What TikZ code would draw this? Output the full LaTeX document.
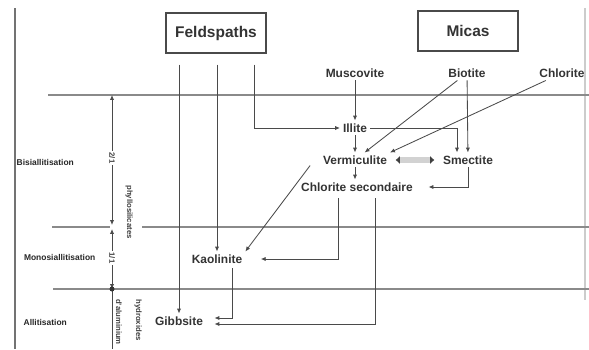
\documentclass[tikz,border=0pt]{standalone}
\usepackage{fontspec}
\setmainfont{Liberation Sans}
\usepackage{xcolor}
\usetikzlibrary{arrows.meta, positioning, calc}
\definecolor{ink}{HTML}{4A4A4A}
\definecolor{edge}{HTML}{8A8A8A}

\begin{document}
\begin{tikzpicture}[
    x=0.025cm, y=-0.025cm,
    >={Latex[length=3.5pt, width=3pt]},
    mineral/.style={font=\fontsize{8.5}{10}\selectfont\bfseries, text=black!80, inner sep=2pt},
    groupbox/.style={draw=ink, thick, minimum width=2.5cm, minimum height=1cm, font=\fontsize{11}{13}\selectfont\bfseries, text=black!80},
    zone/.style={font=\fontsize{6}{7}\selectfont\bfseries, text=black!85, inner sep=1pt},
    vlabel/.style={rotate=-90, font=\fontsize{5.5}{6}\selectfont\bfseries, text=black!75, inner sep=1pt},
    arr/.style={->, draw=ink, line width=0.6pt},
    limit/.style={draw=edge, line width=0.9pt},
]
    \useasboundingbox (0,0) rectangle (589,349);

    % Page edges of the scan
    \draw[black!55, line width=1.5pt] (15,8) -- (15,349);
    \draw[black!20, line width=0.8pt] (585,8) -- (585,300);

    % Limits between the zones
    \draw[limit] (48,95) -- (589,95);
    \draw[limit] (52,227) -- (110,227);
    \draw[limit] (142,227) -- (589,227);
    \draw[limit] (53,289) -- (589,289);

    % Zones
    \node[zone, anchor=west] (bisi) at (15,162) {Bisiallitisation};
    \node[zone, anchor=east] (mono) at (97,257) {Monosiallitisation};
    \node[zone, anchor=west] (alli) at (22,322) {Allitisation};

    % Scale of the products
    \coordinate (sTop) at (112,95);
    \coordinate (sMid) at (112,227);
    \coordinate (sLow) at (112,289);
    \coordinate (sEnd) at (112,349);
    \node[vlabel] (s21) at (112,158) {2/1};
    \node[vlabel] (s11) at (112,258) {1/1};
    \draw[arr] (s21) -- (sTop);
    \draw[arr] (s21) -- ($(sMid)+(0,-2)$);
    \draw[arr] (s11) -- ($(sMid)+(0,2)$);
    \draw[arr] (s11) -- (sLow);
    \draw[ink, line width=0.6pt] (sLow) -- (sEnd);
    \fill[black!80] (sLow) circle (2.5);
    \node[vlabel] (phyl) at (129,212) {phyllosilicates};
    \node[vlabel] (alu) at (119,322) {d'aluminium};
    \node[vlabel] (hydr) at (138,320) {hydroxides};

    % Parent minerals
    \node[groupbox] (feld) at (216,33) {Feldspaths};
    \node[groupbox] (micas) at (468,31) {Micas};
    \node[mineral] (musc) at (355,73) {Muscovite};
    \node[mineral] (biot) at (467,73) {Biotite};
    \node[mineral] (chlo) at (562,73) {Chlorite};

    % Weathering products
    \node[mineral] (illi) at (355,128) {Illite};
    \node[mineral] (verm) at (355,160) {Vermiculite};
    \node[mineral] (smec) at (468,160) {Smectite};
    \node[mineral] (chsec) at (357,187) {Chlorite secondaire};
    \node[mineral] (kaol) at (217,259) {Kaolinite};
    \node[mineral] (gibb) at (179,321) {Gibbsite};

    % Feldspaths
    \draw[arr] (feld.south -| gibb) ++(0,11) -- (gibb);
    \draw[arr] (feld.south -| kaol) ++(0,11) -- (kaol);
    \draw[arr] ($(feld.south east)+(-12,11)$) |- (illi.west);

    % Micas
    \draw[arr] (musc) -- (illi);
    \draw[arr] (biot) -- (verm);
    \draw[arr] (biot) -- (smec);
    \draw[arr] (chlo) -- (verm.north east);
    \draw[arr] (illi.east) -| ($(smec.north)+(-11,0)$);
    \draw[arr] (illi) -- (verm);

    % Vermiculite <-> Smectite
    \draw[line width=4pt, draw=gray!35, {Latex[length=3pt, width=6pt, black!75]}-{Latex[length=3pt, width=6pt, black!75]}, shorten <=4pt, shorten >=4pt] (verm.east) -- (smec.west);

    % Towards the secondary chlorite and further down
    \draw[arr] (verm) -- (verm |- chsec.north);
    \draw[arr, shorten >=9pt] (smec) |- (chsec.east);
    \draw[arr] ($(chsec.north west)+(12,-14)$) -- (kaol.north east);
    \draw[arr, shorten >=11pt] ($(chsec.south west)+(40,4)$) |- (kaol.east);
    \draw[arr, shorten >=6pt] ($(chsec.south)+(18,4)$) |- ($(gibb.east)+(0,3)$);
    \draw[arr, shorten >=6pt] ($(kaol.south)+(15,2)$) |- ($(gibb.east)+(0,-3)$);
\end{tikzpicture}
\end{document}
